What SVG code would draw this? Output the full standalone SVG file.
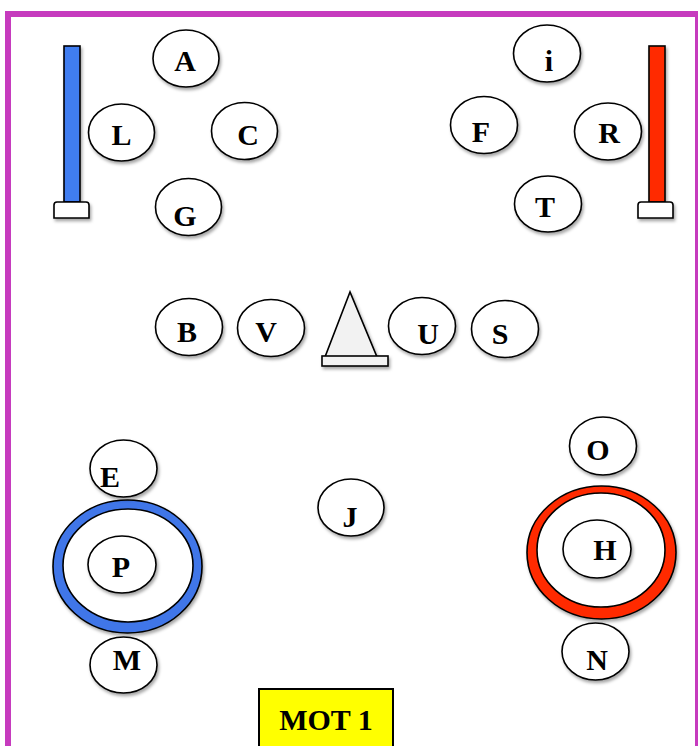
<svg xmlns="http://www.w3.org/2000/svg" width="698" height="746" viewBox="0 0 698 746">
<defs>
<filter id="sh" x="-20%" y="-20%" width="150%" height="150%">
<feDropShadow dx="1.5" dy="2.5" stdDeviation="1.8" flood-color="#000" flood-opacity="0.35"/>
</filter>
</defs>
<style>
.n{fill:#fff;stroke:#000;stroke-width:1.6;filter:url(#sh)}
.t{font-family:"Liberation Serif","Times New Roman",serif;font-weight:bold;font-size:30px;fill:#000;text-anchor:middle}
.k{stroke:#000;stroke-width:1.6}
</style>
<rect x="0" y="0" width="698" height="746" fill="#fff"/>
<rect x="8" y="14" width="690" height="740" fill="none" stroke="#C63BBE" stroke-width="6"/>

<g id="connectors"></g>

<g id="blue-pole" filter="url(#sh)">
<rect x="64" y="46" width="16" height="156" fill="#3F7DF0" class="k"/>
<path d="M54 218 V205 Q54 202 57 202 H86 Q89 202 89 205 V218 Z" fill="#fff" class="k"/>
</g>
<g id="red-pole" filter="url(#sh)">
<rect x="649" y="46" width="16" height="156" fill="#FF2A00" class="k"/>
<path d="M638 218 V205 Q638 202 641 202 H670 Q673 202 673 205 V218 Z" fill="#fff" class="k"/>
</g>
<g id="cone" filter="url(#sh)">
<polygon points="350,292 325,357 377,357" fill="#F2F2F2" class="k"/>
<rect x="322" y="356" width="66" height="10" fill="#F2F2F2" class="k"/>
</g>

<g id="ring-blue" filter="url(#sh)">
<ellipse cx="127.5" cy="566.5" rx="74.5" ry="66.5" fill="#3F76E8" class="k"/>
<ellipse cx="128" cy="565.5" rx="65" ry="56.5" fill="#fff" class="k"/>
</g>
<g id="ring-red" filter="url(#sh)">
<ellipse cx="601.5" cy="552.5" rx="74.5" ry="66.5" fill="#FF2A00" class="k"/>
<ellipse cx="601" cy="550" rx="64" ry="57" fill="#fff" class="k"/>
</g>

<g id="A"><ellipse class="n" cx="186" cy="58.5" rx="33" ry="28.5"/><text class="t" x="185" y="71">A</text></g>
<g id="L"><ellipse class="n" cx="121.5" cy="132.5" rx="33" ry="28.5"/><text class="t" x="121.5" y="145">L</text></g>
<g id="C"><ellipse class="n" cx="244.5" cy="131" rx="33" ry="28.5"/><text class="t" x="248" y="145">C</text></g>
<g id="G"><ellipse class="n" cx="188.5" cy="207" rx="33" ry="28.5"/><text class="t" x="185" y="226">G</text></g>

<g id="i"><ellipse class="n" cx="547" cy="53.5" rx="33.5" ry="28.5"/><text class="t" x="549" y="71">i</text></g>
<g id="F"><ellipse class="n" cx="484" cy="125" rx="33.5" ry="28.5"/><text class="t" x="481" y="142">F</text></g>
<g id="R"><ellipse class="n" cx="608" cy="131.5" rx="33.5" ry="28.5"/><text class="t" x="609" y="143">R</text></g>
<g id="T"><ellipse class="n" cx="548" cy="204" rx="33.5" ry="28"/><text class="t" x="545" y="217">T</text></g>

<g id="B"><ellipse class="n" cx="189" cy="327" rx="33.5" ry="28.5"/><text class="t" x="187" y="342">B</text></g>
<g id="V"><ellipse class="n" cx="271" cy="328" rx="33.5" ry="28.5"/><text class="t" x="266" y="342">V</text></g>
<g id="U"><ellipse class="n" cx="422" cy="326" rx="33.5" ry="28.5"/><text class="t" x="428" y="344">U</text></g>
<g id="S"><ellipse class="n" cx="505" cy="329" rx="33.5" ry="28.5"/><text class="t" x="500" y="344">S</text></g>

<g id="E"><ellipse class="n" cx="123.5" cy="468.5" rx="33.5" ry="28.5"/><text class="t" x="110" y="487">E</text></g>
<g id="P"><ellipse class="n" cx="122" cy="564.5" rx="34" ry="28.5"/><text class="t" x="121" y="577">P</text></g>
<g id="M"><ellipse class="n" cx="123.5" cy="665" rx="33.5" ry="28"/><text class="t" x="127" y="670">M</text></g>

<g id="J"><ellipse class="n" cx="351" cy="507.5" rx="33" ry="28.5"/><text class="t" x="350" y="527">J</text></g>

<g id="O"><ellipse class="n" cx="603" cy="446" rx="33.5" ry="29"/><text class="t" x="598" y="460">O</text></g>
<g id="H"><ellipse class="n" cx="597" cy="549" rx="34" ry="29"/><text class="t" x="605" y="560">H</text></g>
<g id="N"><ellipse class="n" cx="595.5" cy="651.5" rx="33.5" ry="28.5"/><text class="t" x="597" y="670">N</text></g>

<g id="MOT1">
<rect x="259" y="689" width="134" height="70" fill="#FFFF00" stroke="#000" stroke-width="2"/>
<text class="t" x="326" y="730" font-size="31">MOT 1</text>
</g>
</svg>
